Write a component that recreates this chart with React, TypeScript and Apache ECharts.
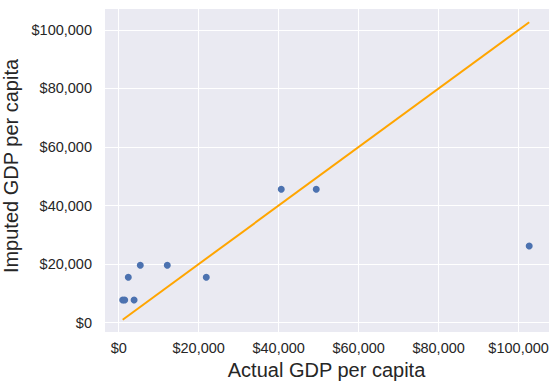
import React, { useEffect, useRef } from "react";
import * as echarts from "echarts";

const actualGdp = [1000, 1500, 3850, 2400, 5400, 12150, 21900, 40650, 49400, 102650];
const imputedGdp = [7760, 7760, 7760, 15500, 19600, 19600, 15500, 45600, 45600, 26200];
const xTitle = "Actual GDP per capita";
const yTitle = "Imputed GDP per capita";
const xRange = [-3675, 107600];
const yRange = [-3200, 107500];
const tickStep = 20000;

const fmt = (v: number) =>
  Math.abs(v % tickStep) < 1e-6 ? "$" + Math.round(v).toLocaleString("en-US") : "";

export default function App() {
  const ref = useRef<HTMLDivElement>(null);
  useEffect(() => {
    document.body.style.margin = "0";
    const chart = echarts.init(ref.current!, null, { renderer: "svg" });
    const minX = Math.min(...actualGdp);
    const maxX = Math.max(...actualGdp);
    const font = "'Liberation Sans', Arial, sans-serif";
    const axisCommon = {
      axisLine: { show: false },
      axisTick: { show: false },
      splitLine: { show: true, lineStyle: { color: "#ffffff", width: 1 } },
    };
    chart.setOption({
      animation: false,
      backgroundColor: "#ffffff",
      grid: {
        left: 104,
        top: 8,
        right: 7,
        bottom: 55,
        show: true,
        backgroundColor: "#EAEAF2",
        borderWidth: 0,
        containLabel: false,
        outerBoundsMode: "none",
      },
      xAxis: {
        type: "value",
        min: xRange[0],
        max: xRange[1],
        splitNumber: 5,
        ...axisCommon,
        axisLabel: {
          formatter: fmt,
          color: "#262626",
          fontSize: 14.5,
          fontFamily: font,
          margin: 8,
          showMinLabel: false,
          showMaxLabel: false,
        },
        name: xTitle,
        nameLocation: "middle",
        nameGap: 26,
        nameTextStyle: { color: "#262626", fontSize: 20, fontFamily: font },
      },
      yAxis: {
        type: "value",
        min: yRange[0],
        max: yRange[1],
        splitNumber: 5,
        ...axisCommon,
        axisLabel: {
          formatter: fmt,
          color: "#262626",
          fontSize: 14.5,
          fontFamily: font,
          margin: 12,
          showMinLabel: false,
          showMaxLabel: false,
        },
        name: yTitle,
        nameLocation: "middle",
        nameGap: 78,
        nameTextStyle: {
          color: "#262626",
          fontSize: 20,
          fontFamily: font,
          padding: [0, 0, 0, 8],
        },
      },
      series: [
        {
          type: "scatter",
          data: actualGdp.map((x, i) => [x, imputedGdp[i]]),
          symbolSize: 7,
          itemStyle: { color: "#4C72B0", opacity: 1 },
          z: 3,
        },
        {
          type: "line",
          data: [
            [minX, minX],
            [maxX, maxX],
          ],
          showSymbol: false,
          symbol: "none",
          lineStyle: { color: "#FFA500", width: 2 },
          z: 4,
        },
      ],
    });
    return () => chart.dispose();
  }, []);
  return <div ref={ref} style={{ width: 556, height: 387 }} />;
}
